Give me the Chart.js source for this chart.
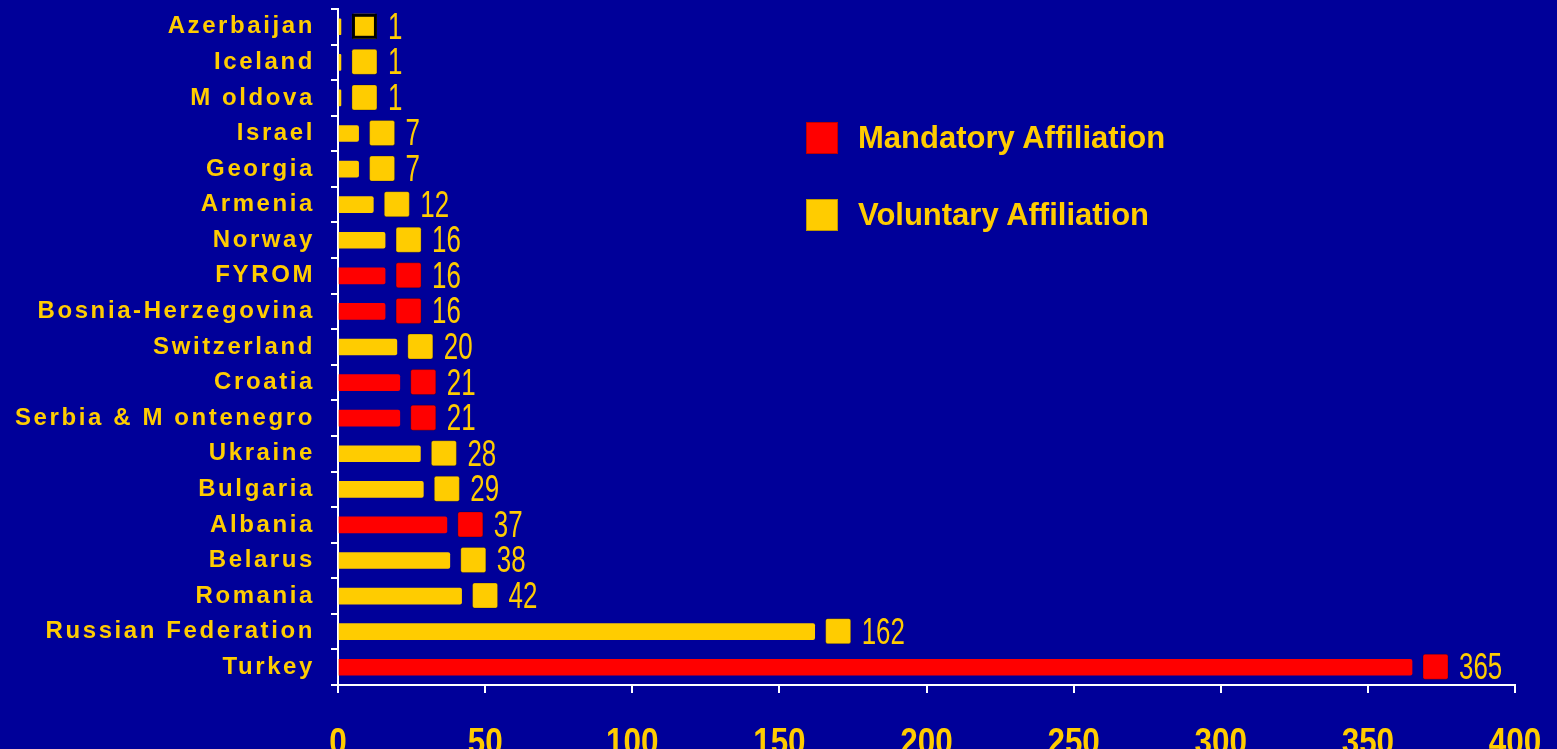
<!DOCTYPE html>
<html>
<head>
<title>Affiliation</title>
<script src="https://cdn.jsdelivr.net/npm/chart.js@4.4.0/dist/chart.umd.min.js"></script>
<style>
	body { margin: 0; background: #000099; }
	#wrap { position: relative; width: 1557px; height: 749px; overflow: hidden; }
	.legend { position: absolute; left: 806px; height: 32px; display: flex; align-items: center;
		font: bold 31px "Liberation Sans", Arial, sans-serif; color: #ffcc00; white-space: nowrap; }
	.legend .box { width: 32px; height: 32px; margin-right: 20px; box-sizing: border-box; border: 1px solid rgba(0,0,0,0.25); }
</style>
</head>
<body>
<div id="wrap">
	<canvas id="myChart" width="1557" height="749"></canvas>
	<div class="legend" style="top:122px"><div class="box" style="background:#ff0000"></div>Mandatory Affiliation</div>
	<div class="legend" style="top:199px"><div class="box" style="background:#ffcc00"></div>Voluntary Affiliation</div>
</div>
<script>
	const countries = ["Azerbaijan", "Iceland", "M oldova", "Israel", "Georgia", "Armenia", "Norway", "FYROM",
		"Bosnia-Herzegovina", "Switzerland", "Croatia", "Serbia & M ontenegro", "Ukraine", "Bulgaria",
		"Albania", "Belarus", "Romania", "Russian Federation", "Turkey"];
	const mandatory = [null, null, null, null, null, null, null, 16, 16, null, 21, 21, null, null, 37, null, null, null, 365];
	const voluntary = [1, 1, 1, 7, 7, 12, 16, null, null, 20, null, null, 28, 29, null, 38, 42, 162, null];
	const xTicks = [0, 50, 100, 150, 200, 250, 300, 350, 400];

	const RED = "#ff0000";
	const YELLOW = "#ffcc00";

	// text drawn squeezed sideways, like the narrow font of the original
	function narrowText(ctx, text, x, y, squeeze) {
		ctx.save();
		ctx.translate(x, y);
		ctx.scale(squeeze, 1);
		ctx.fillText(text, 0, 0);
		ctx.restore();
	}

	// country names, x tick labels, squares and value labels after each bar
	const decorations = {
		id: "decorations",
		afterDraw(chart) {
			const ctx = chart.ctx;
			const yScale = chart.scales.y;
			const xScale = chart.scales.x;
			ctx.save();
			ctx.fillStyle = YELLOW;
			ctx.font = "bold 24px 'Liberation Sans', Arial, sans-serif";
			ctx.letterSpacing = "2.6px";
			ctx.textAlign = "right";
			ctx.textBaseline = "middle";
			countries.forEach((c, i) => ctx.fillText(c, 315, yScale.getPixelForTick(i)));
			ctx.letterSpacing = "0px";

			ctx.font = "bold 37px 'Liberation Sans', Arial, sans-serif";
			ctx.textAlign = "center";
			ctx.textBaseline = "alphabetic";
			xTicks.forEach(v => narrowText(ctx, String(v), xScale.getPixelForValue(v), 754, 0.85));

			ctx.textAlign = "left";
			ctx.textBaseline = "middle";
			chart.data.datasets.forEach((ds, di) => {
				const meta = chart.getDatasetMeta(di);
				meta.data.forEach((bar, i) => {
					const v = ds.data[i];
					if (v === null) return;
					const sx = bar.x + 11;
					const sy = bar.y - 13;
					ctx.fillStyle = ds.backgroundColor;
					ctx.beginPath();
					ctx.roundRect(sx, sy, 25, 25, 2);
					ctx.fill();
					if (i === 0) {
						ctx.lineWidth = 3;
						ctx.strokeStyle = "#000000";
						ctx.strokeRect(sx + 1.5, sy + 1.5, 22, 22);
					} else {
						ctx.lineWidth = 1;
						ctx.strokeStyle = "rgba(0,0,0,0.25)";
						ctx.stroke();
					}
					ctx.fillStyle = YELLOW;
					ctx.font = "36px 'Liberation Sans', Arial, sans-serif";
					narrowText(ctx, String(v), sx + 36, bar.y + 2, 0.72);
				});
			});
			ctx.restore();
		}
	};

	new Chart("myChart", {
		type: "bar",
		data: {
			labels: countries,
			datasets: [
				{ label: "Mandatory Affiliation", data: mandatory, backgroundColor: RED, barThickness: 16, borderRadius: 2, borderSkipped: "start" },
				{ label: "Voluntary Affiliation", data: voluntary, backgroundColor: YELLOW, barThickness: 16, borderRadius: 2, borderSkipped: "start" }
			]
		},
		options: {
			indexAxis: "y",
			responsive: false,
			animation: false,
			layout: { padding: { left: 331, right: 42, top: 9, bottom: 0 } },
			plugins: { legend: { display: false }, tooltip: { enabled: false } },
			scales: {
				x: {
					stacked: true,
					min: xTicks[0],
					max: xTicks[xTicks.length - 1],
					afterBuildTicks: scale => { scale.ticks = xTicks.map(v => ({ value: v })); },
					afterFit: scale => { scale.height = 64; },
					border: { color: "#ffffff", width: 2 },
					grid: { drawOnChartArea: false, color: "#ffffff", lineWidth: 2, tickLength: 8 },
					ticks: { display: false }
				},
				y: {
					stacked: true,
					afterFit: scale => { scale.width = 7; },
					border: { color: "#ffffff", width: 2 },
					grid: { drawOnChartArea: false, offset: true, color: "#ffffff", lineWidth: 2, tickLength: 7 },
					ticks: { display: false }
				}
			}
		},
		plugins: [decorations]
	});
</script>
</body>
</html>
